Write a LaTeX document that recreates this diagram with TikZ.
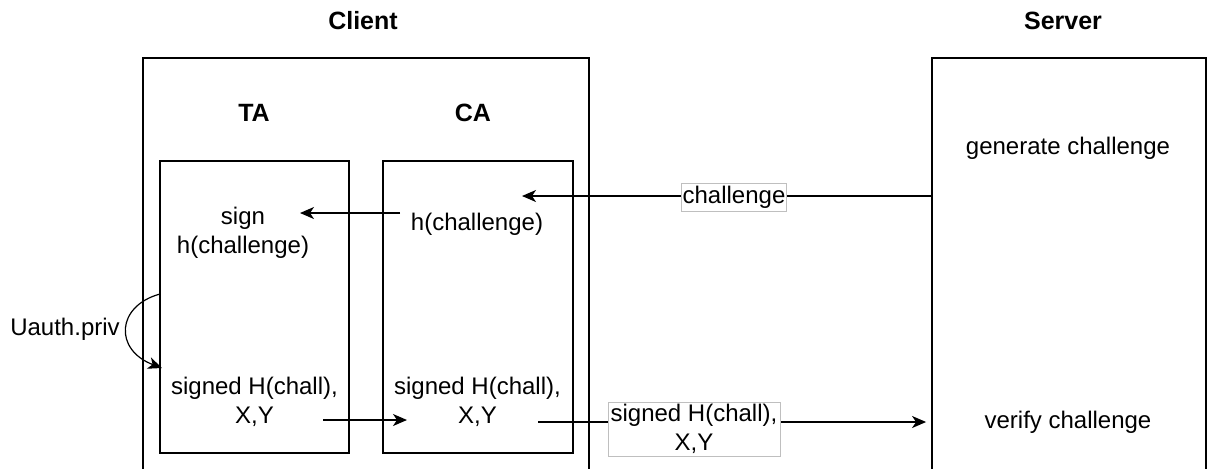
\documentclass[tikz,border=0pt]{standalone}
\usepackage{fontspec}
\setmainfont{Liberation Sans}
\usetikzlibrary{arrows.meta}
\begin{document}
\begin{tikzpicture}[x=0.5pt,y=-0.5pt,
  every node/.style={font=\fontsize{12}{14.4}\selectfont, inner sep=0pt, align=center},
  heading/.style={font=\fontsize{12.5}{15}\selectfont\bfseries},
  frame/.style={draw, line width=0.9pt, inner sep=0pt},
  flow/.style={-{Stealth[length=7pt,width=6pt,inset=2pt]}, line width=0.8pt},
  tag/.style={draw=black!25, line width=0.5pt, fill=white, inner sep=0.6pt}
]
\useasboundingbox (0,0) rectangle (1207,468);
\clip (0,0) rectangle (1207,468);

% outer frames (open at the bottom edge)
\node[frame, minimum width=223pt, minimum height=231pt] (client) at (366,289) {};
\node[frame, minimum width=137pt, minimum height=231pt] (server) at (1069,289) {};

% inner agent frames
\node[frame, minimum width=94.5pt, minimum height=146pt] (ta) at (254.5,307) {};
\node[frame, minimum width=95pt, minimum height=146pt] (ca) at (478,307) {};

% headings
\node[heading] (clienttitle) at (363,21) {Client};
\node[heading] (servertitle) at (1063,21) {Server};
\node[heading] (tatitle) at (254,113) {TA};
\node[heading] (catitle) at (473,113) {CA};

% texts
\node (sign) at (243,232.5) {sign\\h(challenge)};
\node (hchal) at (477,224) {h(challenge)};
\node (gen) at (1068,148) {generate challenge};
\node (ver) at (1068,422) {verify challenge};
\node (tasig) at (254.5,401.5) {signed H(chall),\\X,Y};
\node (casig) at (477.5,401.5) {signed H(chall),\\X,Y};
\node (uauth) at (65,329) {Uauth.priv};

% connector end points
\coordinate (chalend) at (522,196);
\coordinate (hsrc) at (400,213);
\coordinate (hdst) at (300,213);
\coordinate (tasrc) at (323,420);
\coordinate (cadst) at (407,420);
\coordinate (casrc) at (538,422);
\coordinate (keysrc) at (160,294);
\coordinate (keydst) at (162,368);

% connectors
\draw[flow] (server.west |- chalend) -- (chalend);
\node[tag, minimum width=52pt, minimum height=14pt] (chaltag) at (734,197) {challenge};

\draw[flow] (hsrc) -- (hdst);
\draw[flow] (tasrc) -- (cadst);
\draw[flow] (casrc) -- ([xshift=-2.5pt]server.west |- casrc);
\node[tag, minimum width=86pt, minimum height=27pt] (sigtag) at (694,429) {signed H(chall),\\X,Y};

\draw[flow, line width=0.6pt] (keysrc) .. controls (116,306) and (114,350) .. (keydst);
\end{tikzpicture}
\end{document}
